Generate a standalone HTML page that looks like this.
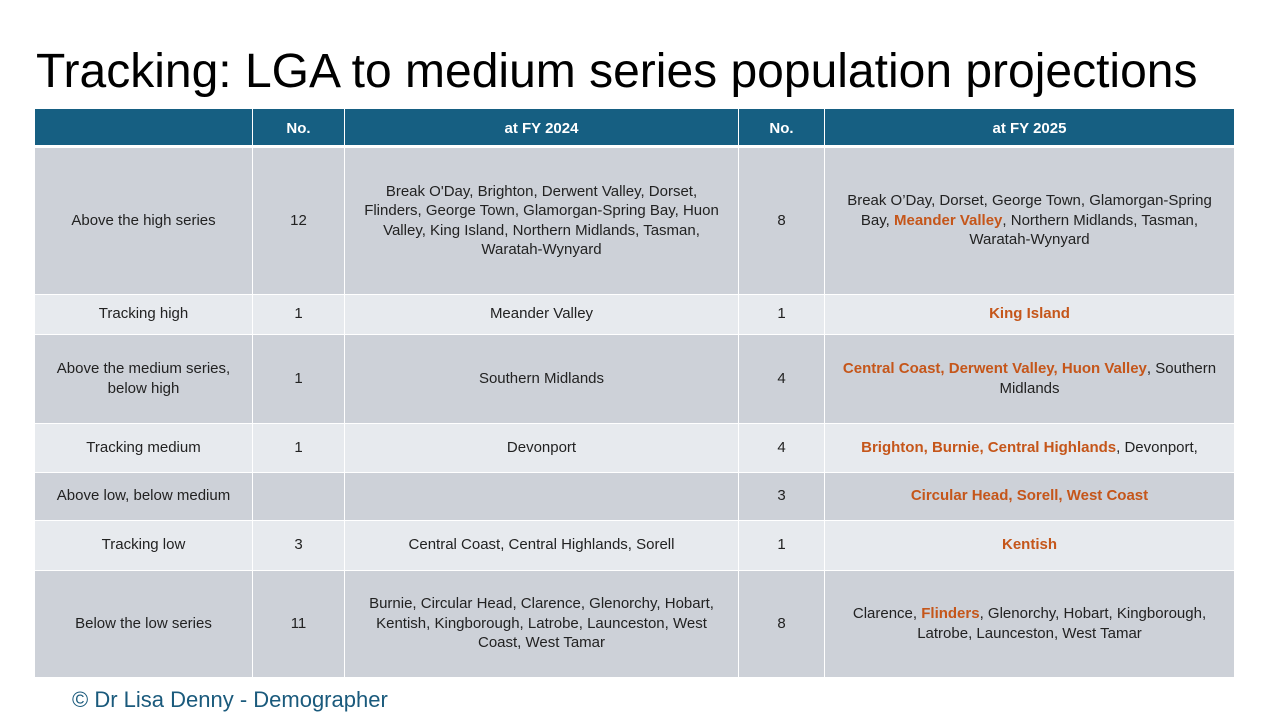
<!DOCTYPE html>
<html><head><meta charset="utf-8"><style>
body{margin:0;width:1280px;height:720px;background:#fff;font-family:"Liberation Sans",sans-serif;position:relative;overflow:hidden}
h1{position:absolute;left:36px;top:44px;margin:0;font-weight:normal;font-size:48px;color:#000;letter-spacing:0;line-height:56px}
table{position:absolute;left:34px;top:109px;width:1200px;border-collapse:collapse;table-layout:fixed;font-size:15px;color:#222}
td,th{border:1px solid #fff;text-align:center;vertical-align:middle;padding:0 14px;line-height:19.5px}
th{background:#165f82;color:#fff;font-weight:bold;height:37px;padding-top:3px;border-bottom:3px solid #fff;border-top:none;box-sizing:border-box}
tr.d td{background:#cdd1d8}
tr.l td{background:#e7eaee}
.o{color:#c5561a;font-weight:bold}
.foot{position:absolute;left:72px;top:687px;font-size:22px;color:#1a5a7c}
</style></head><body>
<h1>Tracking: LGA to medium series population projections</h1>
<table>
<colgroup><col style="width:218px"><col style="width:92px"><col style="width:394px"><col style="width:86px"><col style="width:410px"></colgroup>
<tr><th>&nbsp;</th><th>No.</th><th>at FY 2024</th><th>No.</th><th>at FY 2025</th></tr>
<tr class="d" style="height:148px"><td>Above the high series</td><td>12</td><td>Break O'Day, Brighton, Derwent Valley, Dorset, Flinders, George Town, Glamorgan-Spring Bay, Huon Valley, King Island, Northern Midlands, Tasman, Waratah-Wynyard</td><td>8</td><td>Break O’Day, Dorset, George Town, Glamorgan-Spring Bay, <span class="o">Meander Valley</span>, Northern Midlands, Tasman, Waratah-Wynyard</td></tr>
<tr class="l" style="height:40px"><td>Tracking high</td><td>1</td><td>Meander Valley</td><td>1</td><td><span class="o">King Island</span></td></tr>
<tr class="d" style="height:89px"><td>Above the medium series, below high</td><td>1</td><td>Southern Midlands</td><td>4</td><td><span class="o">Central Coast, Derwent Valley, Huon Valley</span>, Southern Midlands</td></tr>
<tr class="l" style="height:49px"><td>Tracking medium</td><td>1</td><td>Devonport</td><td>4</td><td><span class="o">Brighton, Burnie, Central Highlands</span>, Devonport,</td></tr>
<tr class="d" style="height:48px"><td>Above low, below medium</td><td></td><td></td><td>3</td><td><span class="o">Circular Head, Sorell, West Coast</span></td></tr>
<tr class="l" style="height:50px"><td>Tracking low</td><td>3</td><td>Central Coast, Central Highlands, Sorell</td><td>1</td><td><span class="o">Kentish</span></td></tr>
<tr class="d" style="height:107px"><td>Below the low series</td><td>11</td><td>Burnie, Circular Head, Clarence, Glenorchy, Hobart, Kentish, Kingborough, Latrobe, Launceston, West Coast, West Tamar</td><td>8</td><td>Clarence, <span class="o">Flinders</span>, Glenorchy, Hobart, Kingborough, Latrobe, Launceston, West Tamar</td></tr>
</table>
<div class="foot">© Dr Lisa Denny - Demographer</div>
</body></html>
